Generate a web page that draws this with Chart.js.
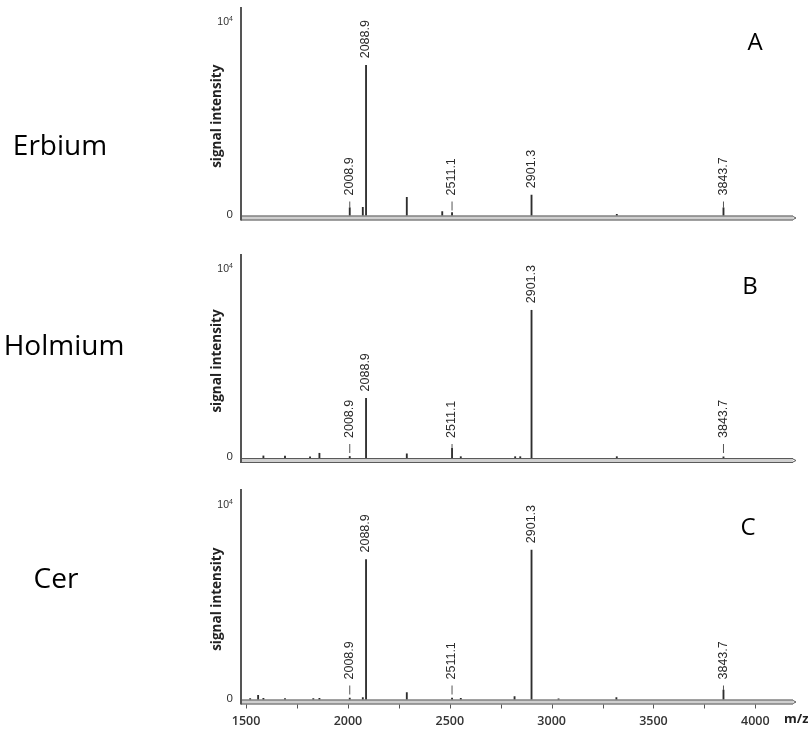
<!DOCTYPE html>
<html lang="en">
<head>
<meta charset="UTF-8">
<title>MALDI spectra</title>
<script src="https://cdn.jsdelivr.net/npm/chart.js"></script>
<style>
  body { margin: 0; background: #fff; }
  canvas { position: absolute; left: 0; }
</style>
</head>
<body>
<canvas id="panelA" width="808" height="240" style="top:0px"></canvas>
<canvas id="panelB" width="808" height="230" style="top:240px"></canvas>
<canvas id="panelC" width="808" height="261" style="top:470px"></canvas>
<script>
// peak lists (m/z, intensity in counts)
const erbiumMz = [2008.9, 2073, 2088.9, 2289, 2463, 2511.1, 2901.3, 3320, 3843.7];
const erbiumIntensity = [390, 420, 7745, 940, 200, 150, 1050, 60, 390];

const holmiumMz = [1585, 1691, 1814, 1860, 2008.9, 2088.9, 2289, 2511.1, 2554, 2821, 2846, 2901.3, 3320, 3843.7];
const holmiumIntensity = [110, 100, 60, 250, 80, 3140, 220, 510, 70, 70, 70, 7785, 70, 60];

const cerMz = [1520, 1559, 1585, 1691, 1830, 1860, 2008.9, 2073, 2088.9, 2289, 2511.1, 2554, 2818, 2901.3, 3034, 3318, 3843.7];
const cerIntensity = [50, 215, 60, 50, 50, 60, 70, 100, 7150, 350, 70, 60, 150, 7625, 40, 100, 485];

const labelledMz = [2008.9, 2088.9, 2511.1, 2901.3, 3843.7];
const mzTicks = [1500, 2000, 2500, 3000, 3500, 4000];
const mzMinorTicks = [1750, 2250, 2750, 3250, 3750];

const MZ_MIN = 1475, MZ_MAX = 4185, INT_MAX = 10750;

const spectrumDecor = {
  id: 'spectrumDecor',
  beforeDatasetsDraw(chart) {
    const ctx = chart.ctx, y = chart.scales.y, area = chart.chartArea;
    const base = y.getPixelForValue(0);
    ctx.save();
    // x axis drawn as a grey band
    ctx.fillStyle = '#cfcfcf';
    ctx.fillRect(area.left, base, area.right - area.left, 5);
    ctx.strokeStyle = '#5a5a5a';
    ctx.lineWidth = 1;
    ctx.beginPath();
    ctx.moveTo(area.left, base + 0.5); ctx.lineTo(area.right, base + 0.5);
    ctx.moveTo(area.left, base + 4.5); ctx.lineTo(area.right, base + 4.5);
    ctx.stroke();
    ctx.beginPath();
    ctx.moveTo(area.right, base + 1); ctx.lineTo(area.right + 3, base + 2.5); ctx.lineTo(area.right, base + 4);
    ctx.stroke();
    // y axis
    ctx.lineWidth = 2;
    ctx.strokeStyle = '#555';
    ctx.beginPath();
    ctx.moveTo(area.left, area.top); ctx.lineTo(area.left, base + 5);
    ctx.stroke();
    ctx.restore();
  },
  afterDatasetsDraw(chart, args, opts) {
    const ctx = chart.ctx, x = chart.scales.x, y = chart.scales.y, area = chart.chartArea;
    const base = y.getPixelForValue(0);
    ctx.save();

    // y tick labels
    ctx.fillStyle = '#333';
    ctx.textBaseline = 'middle';
    ctx.textAlign = 'right';
    const y4 = y.getPixelForValue(10000);
    ctx.font = '10.5px "Liberation Sans"';
    ctx.fillText('10', area.left - 12, y4 + 1);
    ctx.font = '7px "Liberation Sans"';
    ctx.fillText('4', area.left - 8, y4 - 2);
    ctx.font = '11.5px "Liberation Sans"';
    ctx.fillText('0', area.left - 8, base - 1);

    // y axis title
    ctx.save();
    ctx.translate(area.left - 24, (area.top + base) / 2 + 5);
    ctx.rotate(-Math.PI / 2);
    ctx.textAlign = 'center';
    ctx.font = 'bold 13.5px "Open Sans"';
    ctx.fillStyle = '#222';
    ctx.fillText('signal intensity', 0, 0);
    ctx.restore();

    // peak annotations
    ctx.font = '12.5px "Liberation Sans"';
    ctx.fillStyle = '#2a2a2a';
    ctx.strokeStyle = '#555';
    ctx.lineWidth = 1;
    labelledMz.forEach(mz => {
      const i = opts.mz.findIndex(m => Math.abs(m - mz) < 1);
      const h = i >= 0 ? opts.intensity[i] : 0;
      const px = x.getPixelForValue(mz);
      const yPeak = y.getPixelForValue(h);
      const textBottom = Math.min(yPeak - 7, base - 20);
      const leaderTop = textBottom + 6;
      const leaderBottom = Math.min(yPeak, base - 5);
      if (leaderBottom - leaderTop > 1) {
        ctx.beginPath();
        ctx.moveTo(px, leaderTop); ctx.lineTo(px, leaderBottom);
        ctx.stroke();
      }
      ctx.save();
      ctx.translate(px, textBottom);
      ctx.rotate(-Math.PI / 2);
      ctx.textAlign = 'left';
      ctx.textBaseline = 'middle';
      ctx.fillText(mz.toFixed(1), 0, 0);
      ctx.restore();
    });

    // m/z axis ticks and labels
    if (opts.mzAxis) {
      ctx.strokeStyle = '#555';
      ctx.lineWidth = 1;
      ctx.beginPath();
      mzTicks.concat(mzMinorTicks).forEach(t => {
        const px = Math.round(x.getPixelForValue(t)) + 0.5;
        ctx.moveTo(px, base + 5); ctx.lineTo(px, base + 9);
      });
      ctx.stroke();
      ctx.fillStyle = '#333';
      ctx.font = '600 12.5px "Open Sans"';
      ctx.textAlign = 'center';
      ctx.textBaseline = 'middle';
      mzTicks.forEach(t => ctx.fillText(String(t), x.getPixelForValue(t), base + 22));
      ctx.font = 'bold 13px "Open Sans"';
      ctx.textAlign = 'left';
      ctx.fillStyle = '#222';
      ctx.fillText('m/z', area.right - 9, base + 20);
    }

    // sample name and panel letter
    ctx.fillStyle = '#000';
    ctx.textAlign = 'center';
    ctx.textBaseline = 'middle';
    ctx.font = '28px "Open Sans"';
    ctx.fillText(opts.name, opts.nameX, opts.nameY);
    ctx.font = '24px "Open Sans"';
    ctx.fillText(opts.letter, opts.letterX, opts.letterY);
    ctx.restore();
  }
};

function makePanel(canvasId, mz, intensity, panel) {
  const points = mz.map((m, i) => ({ x: m, y: intensity[i] }));
  return new Chart(document.getElementById(canvasId), {
    type: 'bar',
    data: {
      datasets: [{
        data: points,
        backgroundColor: '#2e2e2e',
        borderWidth: 0,
        barThickness: 1.2
      }]
    },
    options: {
      responsive: false,
      animation: false,
      devicePixelRatio: 1,
      layout: { padding: panel.padding },
      scales: {
        x: { type: 'linear', min: MZ_MIN, max: MZ_MAX, offset: false, display: false },
        y: { min: 0, max: INT_MAX, display: false }
      },
      plugins: {
        legend: { display: false },
        tooltip: { enabled: false },
        spectrumDecor: Object.assign({ mz: mz, intensity: intensity }, panel)
      }
    },
    plugins: [spectrumDecor]
  });
}

makePanel('panelA', erbiumMz, erbiumIntensity, {
  name: 'Erbium', letter: 'A', nameX: 60, nameY: 147, letterX: 755, letterY: 43,
  padding: { left: 241, right: 15, top: 7, bottom: 24.5 }, mzAxis: false
});
makePanel('panelB', holmiumMz, holmiumIntensity, {
  name: 'Holmium', letter: 'B', nameX: 64, nameY: 107, letterX: 750, letterY: 47,
  padding: { left: 241, right: 15, top: 14, bottom: 12 }, mzAxis: false
});
makePanel('panelC', cerMz, cerIntensity, {
  name: 'Cer', letter: 'C', nameX: 56, nameY: 110, letterX: 748, letterY: 58,
  padding: { left: 241, right: 15, top: 19, bottom: 31.5 }, mzAxis: true
});
</script>
</body>
</html>
